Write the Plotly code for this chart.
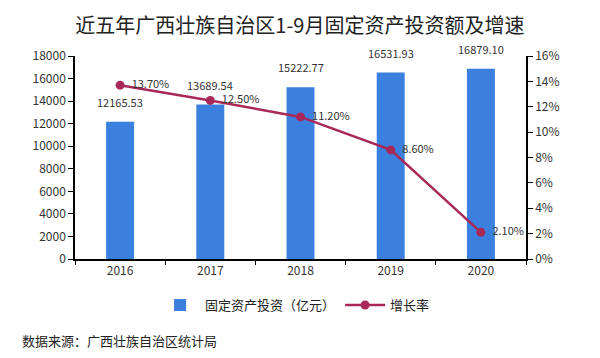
import plotly.graph_objects as go

years = ["2016", "2017", "2018", "2019", "2020"]
investment = [12165.53, 13689.54, 15222.77, 16531.93, 16879.10]
growth = [0.137, 0.125, 0.112, 0.086, 0.021]
invest_labels = ["12165.53", "13689.54", "15222.77", "16531.93", "16879.10"]
growth_labels = ["13.70%", "12.50%", "11.20%", "8.60%", "2.10%"]

FONT = "Noto Sans CJK SC, Microsoft YaHei, sans-serif"
BAR_COLOR = "#3B80DE"
LINE_COLOR = "#A82858"

fig = go.Figure()
fig.add_trace(go.Bar(
    x=years, y=investment, name="固定资产投资（亿元）",
    marker=dict(color=BAR_COLOR, line=dict(width=0)),
    width=0.31, yaxis="y",
))
fig.add_trace(go.Scatter(
    x=years, y=growth, name="增长率", yaxis="y2",
    mode="lines+markers+text",
    line=dict(color=LINE_COLOR, width=2.5),
    marker=dict(color=LINE_COLOR, size=9),
    text=growth_labels, texttemplate="  %{text}", textposition="middle right",
    textfont=dict(family=FONT, size=11, color="#333333"),
    cliponaxis=False,
))

annotations = []
for i, (v, lab) in enumerate(zip(investment, invest_labels)):
    annotations.append(dict(
        x=i, y=v, xref="x", yref="y", text=lab, showarrow=False,
        yanchor="bottom", yshift=10,
        font=dict(family=FONT, size=11, color="#333333"),
    ))
annotations.append(dict(
    x=-55 / 451, y=-(340 - 259) / 203, xref="paper", yref="paper",
    text="数据来源：广西壮族自治区统计局",
    showarrow=False, xanchor="left", yanchor="middle",
    font=dict(family=FONT, size=13, color="#222222"),
))

fig.update_layout(
    width=592, height=350,
    margin=dict(l=67, r=74, t=48, b=99),
    paper_bgcolor="white", plot_bgcolor="white",
    font=dict(family=FONT, size=12, color="#333333"),
    title=dict(text="近五年广西壮族自治区1-9月固定资产投资额及增速",
               x=0.493, xanchor="center", y=0.949, yanchor="middle",
               font=dict(family=FONT, size=20, color="#222222")),
    xaxis=dict(type="category", range=[-0.5, 4.5], autorange=False,
               showline=True, linecolor="#000000", linewidth=1.5,
               ticks="outside", tickson="boundaries", ticklen=4, tickcolor="#000000",
               showgrid=False, tickfont=dict(size=12, color="#333333")),
    yaxis=dict(range=[0, 18000], dtick=2000, tickformat="d", showline=True,
               linecolor="#000000", linewidth=1.5, ticks="outside", ticklen=5,
               tickcolor="#000000", showgrid=False, zeroline=False,
               tickfont=dict(size=12, color="#333333")),
    yaxis2=dict(range=[0, 0.16], dtick=0.02, tickformat=".0%", overlaying="y",
                side="right", showline=True, linecolor="#000000", linewidth=1.5,
                ticks="outside", ticklen=5, tickcolor="#000000", showgrid=False,
                zeroline=False, tickfont=dict(size=12, color="#333333")),
    legend=dict(orientation="h", x=0.488, xanchor="center", y=-0.227, yanchor="middle",
                font=dict(family=FONT, size=13, color="#222222"), itemwidth=40),
    annotations=annotations,
)

fig.write_html("out.html")
